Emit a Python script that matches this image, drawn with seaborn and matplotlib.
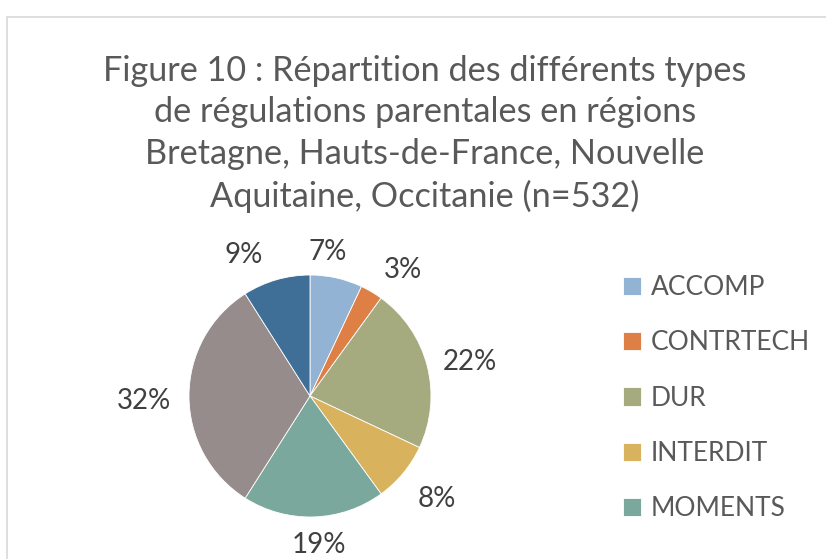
import matplotlib
matplotlib.use("Agg")
import matplotlib.pyplot as plt
import matplotlib.patches as mpatches
import seaborn as sns

categories = ["ACCOMP", "CONTRTECH", "DUR", "INTERDIT", "MOMENTS", "AUTRE1", "AUTRE2"]
values = [7, 3, 22, 8, 19, 32, 9]
colors = ["#93B3D4", "#DE7F45", "#A5AB7F", "#D9B25D", "#7BA89C", "#968C8B", "#3F6E96"]
legend_shown = 5
title = ("Figure 10 : Répartition des différents types\n"
         "de régulations parentales en régions\n"
         "Bretagne, Hauts-de-France, Nouvelle\n"
         "Aquitaine, Occitanie (n=532)")
# label nudges in pixels (x right, y down) to mimic Excel's best-fit placement
label_nudge = [(-17, 10), (13, 9), (8, 5), (6, 3), (4, -8), (-9, 5), (-22, 10)]

sns.set_style("white")
plt.rcParams['font.family'] = ['Lato', 'DejaVu Sans']

W, H = 826, 559
fig = plt.figure(figsize=(W / 100, H / 100), dpi=100)
fig.patch.set_facecolor("white")

# chart border (cropped)
fig.add_artist(mpatches.Rectangle((7 / W, -0.1), 1.2, (H - 17) / H + 0.1,
                                  transform=fig.transFigure, fill=False,
                                  edgecolor="#D9D9D9", linewidth=1.2))

fig.text(425 / W, 1 - 134 / H, title, ha="center", va="center",
         fontsize=24.7, color="#595959", linespacing=1.37)

cx, cy, r = 310, 396, 121
ax = fig.add_axes([(cx - r) / W, (H - cy - r) / H, 2 * r / W, 2 * r / H])
wedges, texts, autotexts = ax.pie(values, colors=colors, startangle=90, counterclock=False,
                                  autopct=lambda p: f"{p:.0f}%", pctdistance=1.3,
                                  wedgeprops=dict(edgecolor="white", linewidth=0.6),
                                  textprops=dict(fontsize=20, color="#404040"))
for t, (dx, dy) in zip(autotexts, label_nudge):
    x, y = t.get_position()
    t.set_position((x + dx / r, y - dy / r))
    t.set_clip_on(False)
ax.set_xlim(-1, 1)
ax.set_ylim(-1, 1)
ax.axis("off")

leg = fig.legend(wedges[:legend_shown], categories[:legend_shown],
                 loc="upper left", bbox_to_anchor=(623 / W, 1 - 275 / H),
                 frameon=False, fontsize=19, labelcolor="#595959",
                 handlelength=0.7, handleheight=0.7, handletextpad=0.35,
                 labelspacing=1.15, borderpad=0, borderaxespad=0)

fig.savefig("out.png", dpi=100)
